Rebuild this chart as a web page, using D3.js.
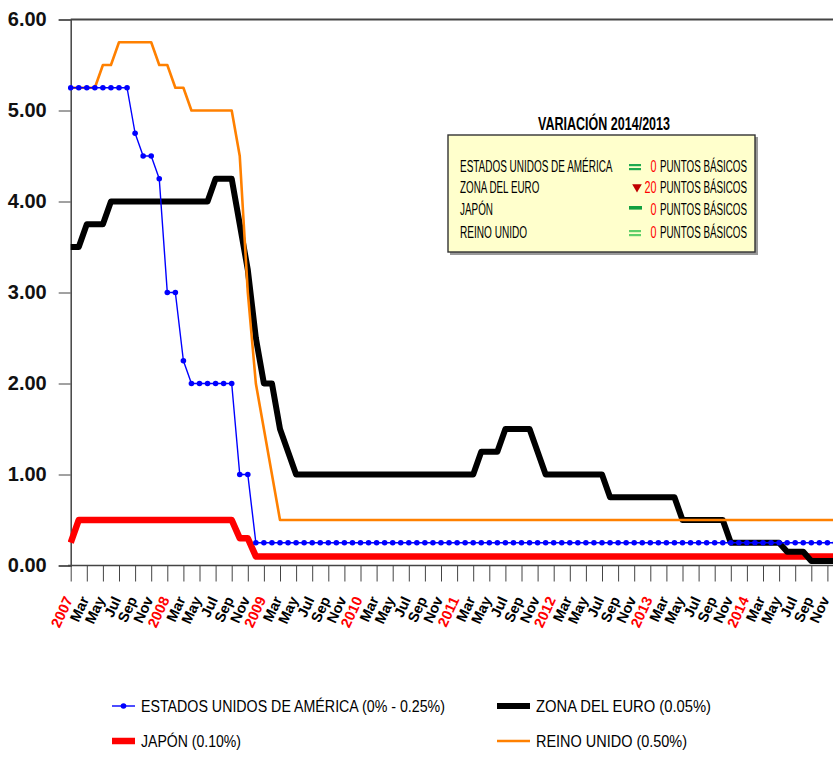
<!DOCTYPE html>
<html>
<head>
    <meta charset='utf-8'>
    <title>Tipos de interés oficiales</title>
    <script src="https://cdn.jsdelivr.net/npm/d3@7"></script>
    <style type="text/css">
        body { margin: 0; background: #fff; }
        svg { display: block; font-family: "Liberation Sans", Arial, sans-serif; }
        .yaxis text { font-size: 20px; font-weight: bold; fill: #111; }
        .xaxis text { font-size: 14.5px; font-weight: bold; }
        .axis path, .axis line { stroke: #444; }
        .box text { font-size: 16px; fill: #000; }
        .legend text { font-size: 16px; fill: #000; }
    </style>
</head>
<body>
    <div id="svgContainer"></div>

    <script type="text/javascript">

        // monthly values, Jan 2007 .. Dec 2014 (one row per year)
        const usaRate = [
            5.25,5.25,5.25,5.25,5.25,5.25,5.25,5.25,4.75,4.50,4.50,4.25,
            3.00,3.00,2.25,2.00,2.00,2.00,2.00,2.00,2.00,1.00,1.00,0.25,
            0.25,0.25,0.25,0.25,0.25,0.25,0.25,0.25,0.25,0.25,0.25,0.25,
            0.25,0.25,0.25,0.25,0.25,0.25,0.25,0.25,0.25,0.25,0.25,0.25,
            0.25,0.25,0.25,0.25,0.25,0.25,0.25,0.25,0.25,0.25,0.25,0.25,
            0.25,0.25,0.25,0.25,0.25,0.25,0.25,0.25,0.25,0.25,0.25,0.25,
            0.25,0.25,0.25,0.25,0.25,0.25,0.25,0.25,0.25,0.25,0.25,0.25,
            0.25,0.25,0.25,0.25,0.25,0.25,0.25,0.25,0.25,0.25,0.25,0.25
        ];
        const euroRate = [
            3.50,3.50,3.75,3.75,3.75,4.00,4.00,4.00,4.00,4.00,4.00,4.00,
            4.00,4.00,4.00,4.00,4.00,4.00,4.25,4.25,4.25,3.75,3.25,2.50,
            2.00,2.00,1.50,1.25,1.00,1.00,1.00,1.00,1.00,1.00,1.00,1.00,
            1.00,1.00,1.00,1.00,1.00,1.00,1.00,1.00,1.00,1.00,1.00,1.00,
            1.00,1.00,1.00,1.25,1.25,1.25,1.50,1.50,1.50,1.50,1.25,1.00,
            1.00,1.00,1.00,1.00,1.00,1.00,1.00,0.75,0.75,0.75,0.75,0.75,
            0.75,0.75,0.75,0.75,0.50,0.50,0.50,0.50,0.50,0.50,0.25,0.25,
            0.25,0.25,0.25,0.25,0.25,0.15,0.15,0.15,0.05,0.05,0.05,0.05
        ];
        const japanRate = [
            0.25,0.50,0.50,0.50,0.50,0.50,0.50,0.50,0.50,0.50,0.50,0.50,
            0.50,0.50,0.50,0.50,0.50,0.50,0.50,0.50,0.50,0.30,0.30,0.10,
            0.10,0.10,0.10,0.10,0.10,0.10,0.10,0.10,0.10,0.10,0.10,0.10,
            0.10,0.10,0.10,0.10,0.10,0.10,0.10,0.10,0.10,0.10,0.10,0.10,
            0.10,0.10,0.10,0.10,0.10,0.10,0.10,0.10,0.10,0.10,0.10,0.10,
            0.10,0.10,0.10,0.10,0.10,0.10,0.10,0.10,0.10,0.10,0.10,0.10,
            0.10,0.10,0.10,0.10,0.10,0.10,0.10,0.10,0.10,0.10,0.10,0.10,
            0.10,0.10,0.10,0.10,0.10,0.10,0.10,0.10,0.10,0.10,0.10,0.10
        ];
        const ukRate = [
            5.25,5.25,5.25,5.25,5.50,5.50,5.75,5.75,5.75,5.75,5.75,5.50,
            5.50,5.25,5.25,5.00,5.00,5.00,5.00,5.00,5.00,4.50,3.00,2.00,
            1.50,1.00,0.50,0.50,0.50,0.50,0.50,0.50,0.50,0.50,0.50,0.50,
            0.50,0.50,0.50,0.50,0.50,0.50,0.50,0.50,0.50,0.50,0.50,0.50,
            0.50,0.50,0.50,0.50,0.50,0.50,0.50,0.50,0.50,0.50,0.50,0.50,
            0.50,0.50,0.50,0.50,0.50,0.50,0.50,0.50,0.50,0.50,0.50,0.50,
            0.50,0.50,0.50,0.50,0.50,0.50,0.50,0.50,0.50,0.50,0.50,0.50,
            0.50,0.50,0.50,0.50,0.50,0.50,0.50,0.50,0.50,0.50,0.50,0.50
        ];

        const years = ["2007","2008","2009","2010","2011","2012","2013","2014"];
        const monthNames = ["Mar","May","Jul","Sep","Nov"];
        const yTicks = [0, 1, 2, 3, 4, 5, 6];

        const legendItems = [
            { label: "ESTADOS UNIDOS DE AMÉRICA (0% - 0.25%)", color: "#0000ff", width: 1.4, dot: true },
            { label: "ZONA DEL EURO (0.05%)", color: "#000000", width: 6 },
            { label: "JAPÓN (0.10%)", color: "#ff0000", width: 6.5 },
            { label: "REINO UNIDO (0.50%)", color: "#ff8000", width: 2.6 }
        ];

        const boxTitle = "VARIACIÓN 2014/2013";
        const boxRows = [
            { name: "ESTADOS UNIDOS DE AMÉRICA", sign: "eq", value: "0" },
            { name: "ZONA DEL EURO", sign: "down", value: "20" },
            { name: "JAPÓN", sign: "dash", value: "0" },
            { name: "REINO UNIDO", sign: "eq2", value: "0" }
        ];

        const width = 833;
        const height = 757;

        const svg = d3.select("#svgContainer").append("svg")
            .attr("width", width)
            .attr("height", height);

        const x = d3.scaleLinear().domain([0, 95]).range([70.7, 70.7 + 95 * 8.05]);
        const y = d3.scaleLinear().domain([0, 6]).range([565.5, 19.5]);

        svg.append("clipPath").attr("id", "plotClip")
            .append("rect").attr("x", 68).attr("y", 0).attr("width", width - 68).attr("height", 570);

        // top frame line
        svg.append("line")
            .attr("x1", 70.7).attr("x2", width)
            .attr("y1", y(6)).attr("y2", y(6))
            .attr("stroke", "#444").attr("stroke-width", 2);

        // y axis
        const yAxis = svg.append("g")
            .attr("class", "axis yaxis")
            .attr("transform", "translate(70.7,0)")
            .call(d3.axisLeft(y).tickValues(yTicks).tickSize(12).tickPadding(12).tickFormat(d3.format(".2f")));
        yAxis.select(".domain").attr("stroke-width", 1.5);

        // x axis, one tick every two months
        const tickIdx = d3.range(0, 96, 2);
        const tickLabel = i => i % 12 === 0 ? years[i / 12] : monthNames[(i % 12) / 2 - 1];
        const xAxis = svg.append("g")
            .attr("class", "axis xaxis")
            .attr("transform", "translate(0," + y(0) + ")")
            .call(d3.axisBottom(x).tickValues(tickIdx).tickSize(16).tickFormat(tickLabel));
        xAxis.select(".domain").attr("d", "M68,0H" + width).attr("stroke-width", 1.5);
        xAxis.selectAll(".tick text")
            .attr("text-anchor", "end")
            .attr("fill", d => d % 12 === 0 ? "#ff0000" : "#000")
            .attr("transform", "translate(2,34) rotate(-65)")
            .attr("dy", 0)
            .attr("y", 0).attr("x", 0);

        // series
        const plot = svg.append("g").attr("clip-path", "url(#plotClip)");
        const line = d3.line().x((d, i) => x(i)).y(d => y(d)).curve(d3.curveLinear);

        const series = [
            { values: japanRate, color: "#ff0000", width: 6.5 },
            { values: euroRate, color: "#000000", width: 6 },
            { values: ukRate, color: "#ff8000", width: 2.6 },
            { values: usaRate, color: "#0000ff", width: 1.4, dot: true }
        ];

        series.forEach(s => {
            plot.append("path")
                .datum(s.values)
                .attr("fill", "none")
                .attr("stroke", s.color)
                .attr("stroke-width", s.width)
                .attr("stroke-linejoin", "round")
                .attr("d", line);
            if (s.dot) {
                plot.append("g").selectAll("circle")
                    .data(s.values)
                    .join("circle")
                    .attr("cx", (d, i) => x(i))
                    .attr("cy", d => y(d))
                    .attr("r", 2.8)
                    .attr("fill", s.color);
            }
        });

        // annotation box
        const box = svg.append("g").attr("class", "box");
        box.append("rect")
            .attr("x", 450).attr("y", 137).attr("width", 308).attr("height", 118)
            .attr("fill", "#999");
        box.append("rect")
            .attr("x", 448).attr("y", 135).attr("width", 307).attr("height", 117)
            .attr("fill", "#ffffcc").attr("stroke", "#333").attr("stroke-width", 1.4);
        box.append("text")
            .attr("x", 538).attr("y", 130)
            .attr("textLength", 132).attr("lengthAdjust", "spacingAndGlyphs")
            .style("font-size", "18px").style("font-weight", "bold")
            .text(boxTitle);

        const rowY = [171.5, 193, 215, 237.5];
        boxRows.forEach((r, i) => {
            const by = rowY[i];
            box.append("text")
                .attr("x", 460).attr("y", by)
                .attr("textLength", d3.max([r.name.length * 6.1, 33]))
                .attr("lengthAdjust", "spacingAndGlyphs")
                .text(r.name);
            if (r.sign === "eq" || r.sign === "eq2") {
                const c = r.sign === "eq" ? "#1faa4f" : "#5fcf6a";
                [-7.5, -3.5].forEach(o => box.append("rect")
                    .attr("x", 629).attr("y", by + o).attr("width", 12).attr("height", 2.2).attr("fill", c));
            } else if (r.sign === "dash") {
                box.append("rect").attr("x", 629).attr("y", by - 9).attr("width", 13).attr("height", 3.6).attr("fill", "#10a040");
            } else {
                box.append("path")
                    .attr("d", d3.symbol().type(d3.symbolTriangle).size(40))
                    .attr("transform", "translate(637," + (by - 6) + ") rotate(180)")
                    .attr("fill", "#c00000");
            }
            box.append("text")
                .attr("x", 656.5).attr("y", by)
                .attr("text-anchor", "end")
                .attr("textLength", r.value.length * 6)
                .attr("lengthAdjust", "spacingAndGlyphs")
                .style("fill", "#ff0000")
                .text(r.value);
            box.append("text")
                .attr("x", 660).attr("y", by)
                .attr("textLength", 87).attr("lengthAdjust", "spacingAndGlyphs")
                .text("PUNTOS BÁSICOS");
        });

        // legend
        const legendPos = [[112, 706], [497, 706], [112, 741], [497, 741]];
        const legendLen = [304, 175, 100, 151];
        const legend = svg.append("g").attr("class", "legend");
        legendItems.forEach((d, i) => {
            const [lx, ly] = legendPos[i];
            const sw = i % 2 === 0 ? 23 : 33;
            legend.append("line")
                .attr("x1", lx).attr("x2", lx + sw)
                .attr("y1", ly).attr("y2", ly)
                .attr("stroke", d.color).attr("stroke-width", d.width);
            if (d.dot) {
                legend.append("circle").attr("cx", lx + sw / 2).attr("cy", ly).attr("r", 2.8).attr("fill", d.color);
            }
            legend.append("text")
                .attr("x", lx + sw + 6).attr("y", ly + 6)
                .attr("textLength", legendLen[i]).attr("lengthAdjust", "spacingAndGlyphs")
                .text(d.label);
        });

    </script>
</body>
</html>
